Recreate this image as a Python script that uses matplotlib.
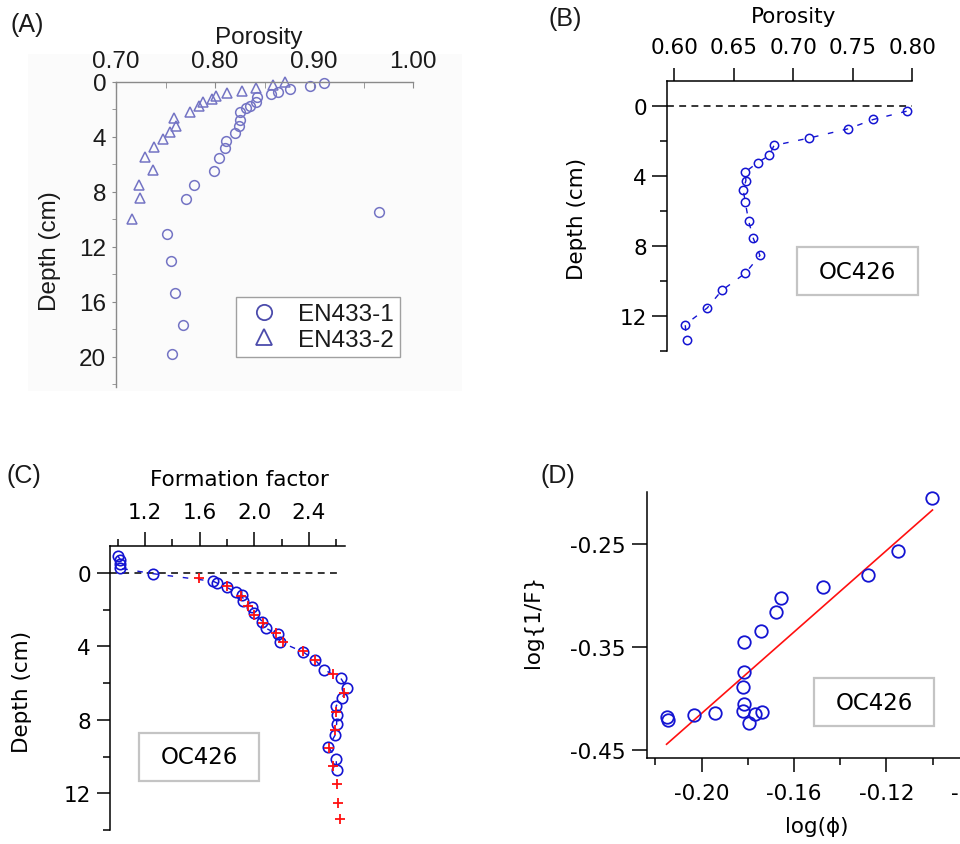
#!/usr/bin/env python
"""
Four panel figure: porosity and formation factor profiles
for the EN433 and OC426 cores, plus the log-log fit (D).
"""
import matplotlib
matplotlib.use('Agg')
import matplotlib.pyplot as plt
from matplotlib.patches import Rectangle
from matplotlib.lines import Line2D
from matplotlib.ticker import FixedLocator, FormatStrFormatter

# (A) porosity vs depth, EN433 cores
en433_1_por = [0.910, 0.896, 0.876, 0.863, 0.856, 0.842, 0.841, 0.835, 0.831,
               0.825, 0.825, 0.824, 0.820, 0.811, 0.810, 0.804, 0.799, 0.779,
               0.771, 0.965, 0.751, 0.755, 0.760, 0.768, 0.757]
en433_1_depth = [0.09, 0.29, 0.53, 0.72, 0.92, 1.11, 1.50, 1.74, 1.93,
                 2.22, 2.76, 3.24, 3.72, 4.28, 4.84, 5.56, 6.46, 7.50,
                 8.51, 9.48, 11.05, 13.03, 15.36, 17.70, 19.83]
en433_2_por = [0.871, 0.858, 0.841, 0.827, 0.812, 0.801, 0.797, 0.788, 0.784,
               0.775, 0.759, 0.761, 0.754, 0.747, 0.738, 0.729, 0.737, 0.723,
               0.724, 0.716]
en433_2_depth = [0.02, 0.24, 0.44, 0.66, 0.82, 1.05, 1.28, 1.50, 1.74,
                 2.18, 2.66, 3.19, 3.67, 4.20, 4.76, 5.49, 6.41, 7.50,
                 8.46, 9.96]

# (B) porosity vs depth, OC426
oc426_por = [0.7952, 0.7672, 0.7462, 0.7132, 0.6838, 0.6798, 0.6700, 0.6597,
             0.6602, 0.6580, 0.6597, 0.6625, 0.6664, 0.6720, 0.6597, 0.6400,
             0.6277, 0.6092, 0.6104]
oc426_por_depth = [0.32, 0.79, 1.32, 1.85, 2.27, 2.84, 3.25, 3.78,
                   4.27, 4.82, 5.52, 6.58, 7.56, 8.54, 9.55, 10.53,
                   11.53, 12.48, 13.38]

# (C) formation factor vs depth, OC426 (two measurement sets)
ff_blue = [1.00, 1.02, 1.02, 1.02, 1.256, 1.700, 1.729, 1.797, 1.863, 1.912,
           1.920, 1.985, 2.000, 2.059, 2.083, 2.171, 2.188, 2.354, 2.444,
           2.510, 2.632, 2.676, 2.644, 2.598, 2.602, 2.602, 2.590, 2.541,
           2.598, 2.602]
ff_blue_depth = [-0.94, -0.73, -0.49, -0.26, 0.03, 0.45, 0.55, 0.78, 1.02, 1.20,
                 1.51, 1.84, 2.20, 2.64, 3.00, 3.33, 3.75, 4.29, 4.73,
                 5.27, 5.73, 6.24, 6.78, 7.24, 7.75, 8.20, 8.84, 9.47,
                 10.11, 10.73]
ff_red = [1.598, 1.797, 1.900, 1.956, 2.000, 2.066, 2.159, 2.212, 2.354, 2.444,
          2.578, 2.656, 2.598, 2.590, 2.546, 2.578, 2.602, 2.615, 2.627]
ff_red_depth = [0.29, 0.73, 1.24, 1.78, 2.29, 2.73, 3.24, 3.78, 4.24, 4.73,
                5.51, 6.51, 7.55, 8.55, 9.51, 10.51, 11.51, 12.51, 13.38]

# (D) log(1/F) vs log(phi), with linear fit
log_phi = [-0.1001, -0.1152, -0.1281, -0.1473, -0.1657, -0.1678, -0.1745,
           -0.1815, -0.1815, -0.1820, -0.1815, -0.1820, -0.1769, -0.1737,
           -0.1794, -0.1942, -0.2032, -0.2152, -0.2144]
log_inv_f = [-0.2047, -0.2565, -0.2798, -0.2914, -0.3024, -0.3163, -0.3348,
             -0.3448, -0.3739, -0.3892, -0.4053, -0.4125, -0.4150, -0.4134,
             -0.4241, -0.4141, -0.4157, -0.4183, -0.4206]
fit_slope = 1.977
fit_intercept = -0.0189

core_label = 'OC426'

BLUE = '#1414d2'
RED = '#ff1010'
A_MARK = '#7474c4'
A_LEG = '#4c4cac'
A_TEXT = '#1a1a1a'
A_GRAY = '#8a8a8a'

W, H = 960.0, 845.0
A_SIZE = 17.5    # panel A is a scan, its text runs larger
TICK_SIZE = 15.5


def pxAxes(fig, left, top, right, bottom):
  # position an axes from pixel coordinates of the reference
  return fig.add_axes([left / W, 1 - bottom / H, (right - left) / W, (bottom - top) / H])


def labelBox(ax, x0, y0, x1, y1, text):
  r = Rectangle((x0, y0), x1 - x0, y1 - y0, transform=ax.transAxes,
                facecolor='white', edgecolor='#c4c4c4', linewidth=1.6,
                clip_on=False, zorder=5)
  ax.add_patch(r)
  ax.text((x0 + x1) / 2, (y0 + y1) / 2, text, transform=ax.transAxes,
          ha='center', va='center', fontsize=16.5, zorder=6)


def topLeftSpines(ax, color='black', lw=1.1):
  ax.spines['right'].set_visible(False)
  ax.spines['bottom'].set_visible(False)
  for s in ('left', 'top'):
    ax.spines[s].set_color(color)
    ax.spines[s].set_linewidth(lw)
  ax.xaxis.tick_top()
  ax.xaxis.set_label_position('top')


def panelLetter(fig, x, y, s):
  fig.text(x / W, 1 - y / H, s, ha='left', va='center', fontsize=18,
           family='Liberation Sans', color=A_TEXT)


def main():
  plt.rcParams['font.family'] = ['DejaVu Sans']
  plt.rcParams['axes.unicode_minus'] = False
  fig = plt.figure(figsize=(9.6, 8.45), dpi=100)

  # very faint gray background behind panel A (scanned figure)
  fig.patches.append(Rectangle((28 / W, 1 - 392 / H), 434 / W, 337 / H,
                               transform=fig.transFigure, facecolor='#fbfbfb',
                               edgecolor='none', zorder=-10))

  # ---------------- (A) ----------------
  axA = pxAxes(fig, 116, 82.7, 413.3, 388)
  axA.set_facecolor('none')
  topLeftSpines(axA, color=A_GRAY, lw=1.0)
  afont = dict(family='Liberation Sans', size=A_SIZE, color=A_TEXT)
  axA.plot(en433_1_por, en433_1_depth, 'o', ms=7, mfc='none', mec=A_MARK, mew=1.1, clip_on=False)
  axA.plot(en433_2_por, en433_2_depth, '^', ms=7.5, mfc='none', mec=A_MARK, mew=1.1, clip_on=False)
  axA.set_xlim(0.70, 1.00)
  axA.set_ylim(22.2, 0)
  axA.xaxis.set_major_locator(FixedLocator([0.70, 0.80, 0.90, 1.00]))
  axA.xaxis.set_minor_locator(FixedLocator([0.75, 0.85, 0.95]))
  axA.xaxis.set_major_formatter(FormatStrFormatter('%.2f'))
  axA.yaxis.set_major_locator(FixedLocator([0, 4, 8, 12, 16, 20]))
  axA.yaxis.set_minor_locator(FixedLocator([2, 6, 10, 14, 18, 22]))
  axA.tick_params(axis='x', which='both', direction='in', length=4, color=A_GRAY, pad=7)
  axA.tick_params(axis='y', which='both', direction='out', length=3, color=A_GRAY, pad=4)
  for t in axA.get_xticklabels() + axA.get_yticklabels():
    t.set_fontproperties('Liberation Sans')
    t.set_fontsize(A_SIZE)
    t.set_color(A_TEXT)
  axA.set_xlabel('Porosity', **afont)
  axA.set_ylabel('Depth (cm)', **afont)
  axA.xaxis.set_label_coords(0.48, 1.148)
  axA.xaxis.label.set_va('center')
  axA.yaxis.set_label_coords(-0.222, 0.449)
  axA.yaxis.label.set_va('center')
  handles = [Line2D([], [], ls='none', marker='o', ms=11, mfc='none', mec=A_LEG, mew=1.3),
             Line2D([], [], ls='none', marker='^', ms=12, mfc='none', mec=A_LEG, mew=1.3)]
  leg = axA.legend(handles, ['EN433-1', 'EN433-2'], loc='lower right',
                   bbox_to_anchor=(0.955, 0.098), borderaxespad=0, fancybox=False,
                   framealpha=1, edgecolor='#a0a0a0', labelspacing=0.15,
                   handletextpad=0.5, borderpad=0.25, handlelength=1.8,
                   prop=dict(family='Liberation Sans', size=A_SIZE))
  leg.get_frame().set_linewidth(1.0)
  for t in leg.get_texts():
    t.set_color(A_TEXT)
  panelLetter(fig, 10, 25, '(A)')

  # ---------------- (B) ----------------
  axB = pxAxes(fig, 667, 81.7, 912.3, 352.3)
  topLeftSpines(axB)
  axB.axhline(0, xmin=0, xmax=1, color='black', lw=1.1, dashes=(4.5, 3.5))
  axB.plot(oc426_por, oc426_por_depth, color=BLUE, lw=1.0, dashes=(4, 7),
           marker='o', ms=6, mfc='none', mec=BLUE, mew=1.1, clip_on=False)
  axB.set_xlim(0.5939, 0.80)
  axB.set_ylim(14, -1.42)
  axB.xaxis.set_major_locator(FixedLocator([0.60, 0.65, 0.70, 0.75, 0.80]))
  axB.xaxis.set_major_formatter(FormatStrFormatter('%.2f'))
  axB.yaxis.set_major_locator(FixedLocator([0, 4, 8, 12]))
  axB.yaxis.set_minor_locator(FixedLocator([2, 6, 10, 14]))
  axB.tick_params(axis='x', which='major', direction='out', length=9.6, width=1.1, pad=7.5, labelsize=TICK_SIZE)
  axB.tick_params(axis='y', which='major', direction='out', length=11, width=1.1, pad=3.4, labelsize=TICK_SIZE)
  axB.tick_params(axis='y', which='minor', direction='out', length=5, width=1.1)
  axB.set_xlabel('Porosity', fontsize=TICK_SIZE)
  axB.set_ylabel('Depth (cm)', fontsize=TICK_SIZE)
  axB.xaxis.set_label_coords(0.515, 1.240)
  axB.xaxis.label.set_va('center')
  axB.yaxis.set_label_coords(-0.368, 0.493)
  axB.yaxis.label.set_va('center')
  labelBox(axB, 0.530, 0.208, 1.023, 0.385, core_label)
  panelLetter(fig, 549, 19, '(B)')

  # ---------------- (C) ----------------
  axC = pxAxes(fig, 110, 547.3, 345, 831)
  topLeftSpines(axC)
  axC.axhline(0, xmin=0, xmax=0.97, color='black', lw=1.1, dashes=(4.5, 3.5))
  axC.plot(ff_blue, ff_blue_depth, color=BLUE, lw=1.0, dashes=(4, 7),
           marker='o', ms=7.5, mfc='none', mec=BLUE, mew=1.2, clip_on=False)
  axC.plot(ff_red, ff_red_depth, ls='none', marker='+', ms=7, mec=RED, mew=1.3,
           clip_on=False)
  axC.set_xlim(0.944, 2.663)
  axC.set_ylim(14, -1.46)
  axC.xaxis.set_major_locator(FixedLocator([1.2, 1.6, 2.0, 2.4]))
  axC.xaxis.set_minor_locator(FixedLocator([1.0, 1.4, 1.8, 2.2, 2.6]))
  axC.xaxis.set_major_formatter(FormatStrFormatter('%.1f'))
  axC.yaxis.set_major_locator(FixedLocator([0, 4, 8, 12]))
  axC.yaxis.set_minor_locator(FixedLocator([2, 6, 10, 14]))
  axC.tick_params(axis='x', which='major', direction='out', length=10, width=1.1, pad=7.5, labelsize=TICK_SIZE)
  axC.tick_params(axis='x', which='minor', direction='out', length=5, width=1.1)
  axC.tick_params(axis='y', which='major', direction='out', length=9.6, width=1.1, pad=4, labelsize=TICK_SIZE)
  axC.tick_params(axis='y', which='minor', direction='out', length=4.8, width=1.1)
  axC.set_xlabel('Formation factor', fontsize=TICK_SIZE)
  axC.set_ylabel('Depth (cm)', fontsize=TICK_SIZE)
  axC.xaxis.set_label_coords(0.551, 1.237)
  axC.xaxis.label.set_va('center')
  axC.yaxis.set_label_coords(-0.376, 0.491)
  axC.yaxis.label.set_va('center')
  labelBox(axC, 0.123, 0.173, 0.634, 0.342, core_label)
  panelLetter(fig, 6, 476, '(C)')

  # ---------------- (D) ----------------
  axD = pxAxes(fig, 646.7, 492.7, 978.9, 759.3)
  axD.spines['right'].set_visible(False)
  axD.spines['top'].set_visible(False)
  for s in ('left', 'bottom'):
    axD.spines[s].set_linewidth(1.1)
  xfit = [min(log_phi), max(log_phi)]
  yfit = [fit_slope * x + fit_intercept for x in xfit]
  axD.plot(xfit, yfit, color=RED, lw=1.2)
  axD.plot(log_phi, log_inv_f, ls='none', marker='o', ms=9, mfc='none', mec=BLUE,
           mew=1.3, clip_on=False)
  axD.set_xlim(-0.2238, -0.08)
  axD.set_ylim(-0.458, -0.199)
  axD.xaxis.set_major_locator(FixedLocator([-0.20, -0.16, -0.12, -0.08]))
  axD.xaxis.set_minor_locator(FixedLocator([-0.22, -0.18, -0.14, -0.10]))
  axD.xaxis.set_major_formatter(FormatStrFormatter('%.2f'))
  axD.yaxis.set_major_locator(FixedLocator([-0.45, -0.35, -0.25]))
  axD.yaxis.set_major_formatter(FormatStrFormatter('%.2f'))
  axD.tick_params(axis='x', which='major', direction='out', length=10, width=1.1, pad=7.5, labelsize=TICK_SIZE)
  axD.tick_params(axis='x', which='minor', direction='out', length=5, width=1.1)
  axD.tick_params(axis='y', which='major', direction='out', length=11, width=1.1, pad=4.5, labelsize=TICK_SIZE)
  axD.set_xlabel('log(\u03d5)', fontsize=TICK_SIZE)
  axD.set_ylabel('log{1/F}', fontsize=TICK_SIZE)
  axD.xaxis.set_label_coords(0.512, -0.253)
  axD.xaxis.label.set_va('center')
  axD.yaxis.set_label_coords(-0.341, 0.516)
  axD.yaxis.label.set_va('center')
  labelBox(axD, 0.504, 0.121, 0.865, 0.301, core_label)
  panelLetter(fig, 541, 476, '(D)')

  fig.savefig('out.png', dpi=100)
  return 0


if __name__ == '__main__':
  main()
